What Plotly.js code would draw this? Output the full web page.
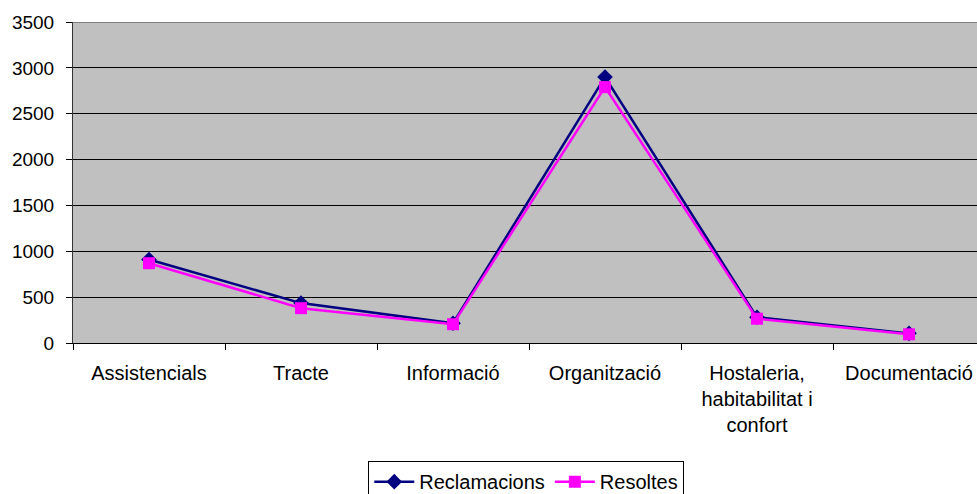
<!DOCTYPE html>
<html>
<head>
<meta charset="utf-8">
<script src="https://cdn.plot.ly/plotly-3.0.1.min.js"></script>
<style>
html, body { margin:0; padding:0; overflow:hidden; background:#fff; }
#chart { width:986px; height:494px; }
</style>
</head>
<body>
<div id="chart"></div>
<script>
const categories = ["Assistencials", "Tracte", "Informació", "Organització", "Hostaleria,<br>habitabilitat i<br>confort", "Documentació"];
const reclamacions = [910, 435, 215, 2900, 280, 105];
const resoltes = [870, 380, 205, 2790, 265, 95];
const yTicks = [0, 500, 1000, 1500, 2000, 2500, 3000, 3500];

const FONT = "Liberation Sans, Arial, sans-serif";

const traces = [
  {
    x: categories, y: reclamacions, name: "Reclamacions", type: "scatter", mode: "lines+markers",
    line: {color: "#000080", width: 2.5},
    marker: {symbol: "diamond", size: 12, color: "#000080"}
  },
  {
    x: categories, y: resoltes, name: "Resoltes", type: "scatter", mode: "lines+markers",
    line: {color: "#FF00FF", width: 2.5},
    marker: {symbol: "square", size: 12, color: "#FF00FF"}
  }
];

const layout = {
  width: 986, height: 494,
  margin: {l: 73, r: 1, t: 22, b: 151, autoexpand: false},
  paper_bgcolor: "#ffffff",
  plot_bgcolor: "#C0C0C0",
  font: {family: FONT, size: 19, color: "#000"},
  showlegend: true,
  legend: {
    orientation: "h", x: 0.497, xanchor: "center", y: -0.368, yanchor: "top",
    bordercolor: "#000", borderwidth: 1, bgcolor: "#fff",
    font: {family: FONT, size: 20, color: "#000"},
    itemwidth: 40, tracegroupgap: 0
  },
  xaxis: {
    type: "category", range: [-0.5, 5.5], automargin: false,
    showgrid: false, zeroline: false,
    showline: true, linecolor: "#000", linewidth: 1,
    ticks: "outside", ticklen: 6, tickcolor: "#000", tickson: "boundaries",
    ticklabelstandoff: 12,
    tickfont: {family: FONT, size: 20, color: "#000"}
  },
  yaxis: {
    range: [0, 3500], tickvals: yTicks, ticktext: yTicks.map(String), automargin: false,
    showgrid: true, gridcolor: "#000", gridwidth: 1,
    zeroline: false,
    showline: true, linecolor: "#333", linewidth: 1,
    ticks: "outside", ticklen: 6, tickcolor: "#000",
    ticklabelstandoff: 8,
    tickfont: {family: FONT, size: 19, color: "#000"}
  },
  shapes: [
    {type: "line", xref: "paper", yref: "y", x0: 0, x1: 1, y0: 3500, y1: 3500,
     line: {color: "#808080", width: 2}}
  ]
};

Plotly.newPlot("chart", traces, layout, {displayModeBar: false, staticPlot: true});
</script>
</body>
</html>
